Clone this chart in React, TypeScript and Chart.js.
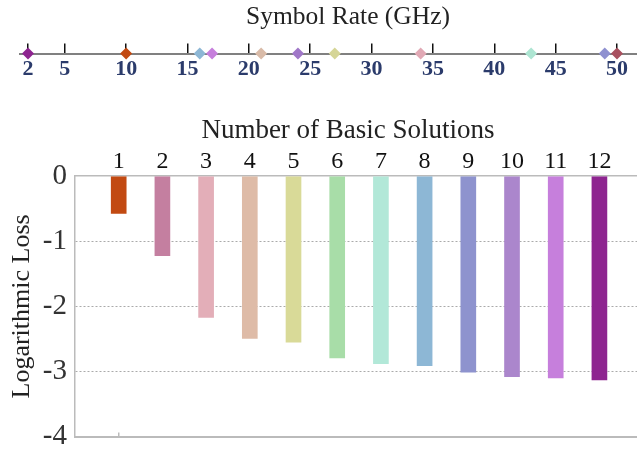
import React, { useEffect, useRef } from 'react';
import { Chart, registerables } from 'chart.js';

Chart.register(...registerables);

const SERIF = '"Liberation Serif", "Times New Roman", serif';

// Top axis: symbol rates
const symbolRateTicks = [2, 5, 10, 15, 20, 25, 30, 35, 40, 45, 50];
const symbolRates = [2, 10, 16, 17, 21, 24, 27, 34, 43, 49, 50];
const rateColors = ['#8E2590', '#C24A12', '#8DB7D5', '#C67FDC', '#D9BBA8', '#A077C8', '#D5D596', '#E1A9B5', '#ADE5D2', '#8E90D0', '#A8505F'];

// Bar chart: number of basic solutions vs logarithmic loss
const solutionCounts = [1, 2, 3, 4, 5, 6, 7, 8, 9, 10, 11, 12];
const logLoss = [-0.57, -1.22, -2.17, -2.49, -2.55, -2.79, -2.88, -2.91, -3.01, -3.08, -3.10, -3.13];
const barColors = ['#C24A12', '#C47FA0', '#E3AEB8', '#DEBBA7', '#D9DA98', '#A8DDA8', '#B2E8D8', '#8DB7D5', '#8E93CE', '#AB86CC', '#C67FDC', '#8E2590'];
const lossTicks = [0, -1, -2, -3, -4];
const bottomTicks = [1];

const CANVAS_W = 696;

const spacer = (position: string, width: number) => ({
  display: true,
  position,
  ticks: { display: false },
  grid: { display: false, drawTicks: false },
  border: { display: false },
  afterFit: (s: any) => {
    s.width = width;
  },
});

export default function App() {
  const topRef = useRef<HTMLCanvasElement | null>(null);
  const barRef = useRef<HTMLCanvasElement | null>(null);

  useEffect(() => {
    document.body.style.margin = '0';
    const top = new Chart(topRef.current as HTMLCanvasElement, {
      type: 'scatter',
      data: {
        datasets: [
          {
            data: symbolRates.map((r) => ({ x: r, y: 0 })),
            pointStyle: 'rectRot',
            pointRadius: 6,
            backgroundColor: rateColors,
            borderWidth: 0,
            clip: false,
          } as any,
        ],
      },
      options: {
        animation: false,
        responsive: false,
        maintainAspectRatio: false,
        layout: { padding: 0 },
        plugins: {
          legend: { display: false },
          tooltip: { enabled: false },
          title: {
            display: true,
            text: 'Symbol Rate (GHz)',
            font: { family: SERIF, size: 25.5, weight: 'normal' },
            color: '#222',
            padding: { top: 2, bottom: 11 },
          },
        },
        scales: {
          x: {
            type: 'linear',
            min: 1.35,
            max: 51.63,
            offset: false,
            afterBuildTicks: (s: any) => {
              s.ticks = symbolRateTicks.map((v) => ({ value: v }));
            },
            ticks: {
              font: { family: SERIF, size: 22, weight: 'bold' },
              color: '#2B3B6B',
              padding: 3,
              autoSkip: false,
              maxRotation: 0,
            },
            grid: { drawTicks: false, color: '#111', lineWidth: 1.5, drawOnChartArea: true },
            border: { color: '#808080', width: 2 },
          },
          y: { ...spacer('left', 20), min: 0, max: 1 },
          y2: { ...spacer('right', CANVAS_W - 637), min: 0, max: 1 },
        },
      } as any,
    });

    const bar = new Chart(barRef.current as HTMLCanvasElement, {
      type: 'bar',
      data: {
        datasets: [
          {
            data: solutionCounts.map((c, i) => ({ x: c, y: logLoss[i] })),
            backgroundColor: barColors,
            barThickness: 15,
            borderWidth: 0,
          } as any,
        ],
      },
      options: {
        animation: false,
        responsive: false,
        maintainAspectRatio: false,
        layout: { padding: { left: 0, right: 0, top: 0, bottom: 3 } },
        plugins: {
          legend: { display: false },
          tooltip: { enabled: false },
          title: {
            display: true,
            text: 'Number of Basic Solutions',
            font: { family: SERIF, size: 27, weight: 'normal' },
            color: '#222',
            padding: { top: 25, bottom: 0 },
          },
        },
        scales: {
          x: {
            type: 'linear',
            position: 'top',
            min: 0,
            max: 12.86,
            offset: false,
            afterBuildTicks: (s: any) => {
              s.ticks = solutionCounts.map((v) => ({ value: v }));
            },
            ticks: {
              font: { family: SERIF, size: 24 },
              color: '#111',
              padding: 0,
              autoSkip: false,
              maxRotation: 0,
            },
            grid: { drawOnChartArea: false, drawTicks: false, color: '#bbb', offset: false },
            border: { color: '#bbb', width: 1.5 },
          },
          x2: {
            type: 'linear',
            position: 'bottom',
            min: 0,
            max: 12.86,
            offset: false,
            afterBuildTicks: (s: any) => {
              s.ticks = bottomTicks.map((v) => ({ value: v }));
            },
            ticks: { display: false },
            grid: { drawOnChartArea: false, drawTicks: true, tickLength: -4, color: '#bbb', lineWidth: 1.5, offset: false },
            border: { color: '#bbb', width: 2 },
          },
          y: {
            min: -4,
            max: 0,
            afterBuildTicks: (s: any) => {
              s.ticks = lossTicks.map((v) => ({ value: v }));
            },
            afterFit: (s: any) => {
              s.width = 75;
            },
            ticks: {
              font: { family: SERIF, size: 29 },
              color: '#333',
              padding: 8,
            },
            grid: {
              drawTicks: false,
              color: (ctx: any) => (ctx.tick && (ctx.tick.value === 0 || ctx.tick.value === -4) ? 'rgba(0,0,0,0)' : '#aaa'),
              lineWidth: 1,
            },
            border: { color: '#bbb', width: 1.5, dash: [2, 2] },
            title: {
              display: true,
              text: 'Logarithmic Loss',
              font: { family: SERIF, size: 26, weight: 'normal' },
              color: '#222',
              padding: { top: 7, bottom: 4 },
            },
          },
          y2: spacer('right', CANVAS_W - 637),
        },
      } as any,
    });

    return () => {
      top.destroy();
      bar.destroy();
    };
  }, []);

  return (
    <div style={{ position: 'relative', width: 637, height: 449, background: '#fff', overflow: 'hidden' }}>
      <canvas ref={topRef} width={CANVAS_W} height={86} style={{ position: 'absolute', left: 0, top: 0 }} />
      <canvas ref={barRef} width={CANVAS_W} height={372} style={{ position: 'absolute', left: 0, top: 90 }} />
    </div>
  );
}
